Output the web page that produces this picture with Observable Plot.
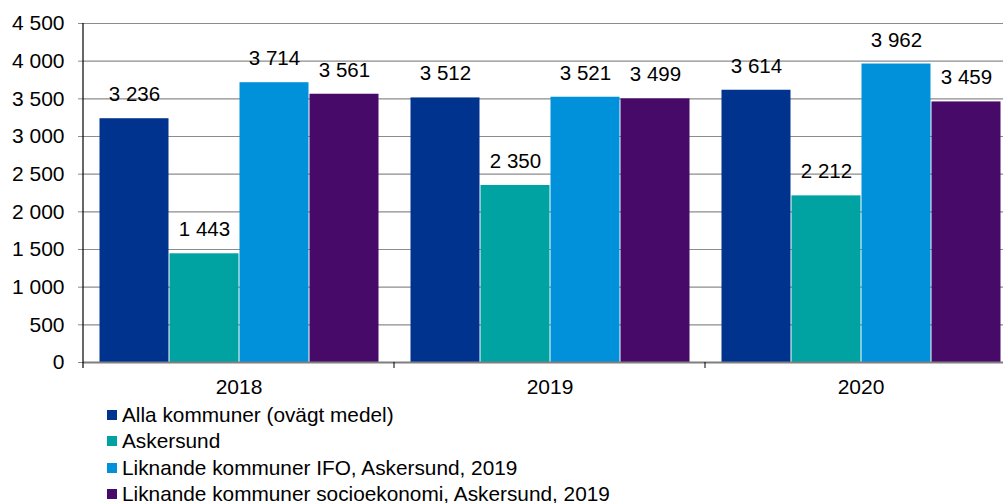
<!DOCTYPE html>
<html><head><meta charset="utf-8">
<script src="https://cdn.jsdelivr.net/npm/d3@7"></script>
<script src="https://cdn.jsdelivr.net/npm/@observablehq/plot@0.6"></script>
<style>
html,body{margin:0;background:#fff;font-family:"Liberation Sans",Arial,sans-serif;overflow:hidden}
#wrap{width:1016px;overflow:hidden}
#chart svg{display:block;max-width:none !important}
.legend{padding-left:107px;padding-top:2px;font-size:20.8px;color:#000}
.item{display:flex;align-items:center;height:26.3px;white-space:nowrap}
.sw{width:10px;height:10px;margin-right:5px;flex:none}
</style></head><body><div id="wrap"><div id="chart"></div><div class="legend" id="legend"></div></div>
<script>
const years = ["2018", "2019", "2020"];
const series = [
  "Alla kommuner (ovägt medel)",
  "Askersund",
  "Liknande kommuner IFO, Askersund, 2019",
  "Liknande kommuner socioekonomi, Askersund, 2019"
];
const colors = ["#00338D", "#00A3A1", "#0091DA", "#470A68"];
const allaKommuner = [3236, 3512, 3614];
const askersund = [1443, 2350, 2212];
const liknandeIFO = [3714, 3521, 3962];
const liknandeSocio = [3561, 3499, 3459];
const yTicks = [0, 500, 1000, 1500, 2000, 2500, 3000, 3500, 4000, 4500];

const valuesBySeries = [allaKommuner, askersund, liknandeIFO, liknandeSocio];
const data = [];
years.forEach((yr, i) => series.forEach((s, j) => data.push({year: yr, series: s, value: valuesBySeries[j][i]})));

const fmt = d3.formatLocale({decimal: ",", thousands: " ", grouping: [3], currency: ["", " kr"]}).format(",d");

const plot = Plot.plot({
  width: 1016,
  height: 400,
  marginLeft: 82,
  marginRight: 0,
  marginTop: 23,
  marginBottom: 38,
  style: {fontFamily: "'Liberation Sans', Arial, sans-serif", fontSize: "21px", color: "#000", background: "#fff", maxWidth: "none"},
  fx: {domain: years, padding: 0, label: null},
  x: {domain: series, paddingInner: 0, paddingOuter: 0.214, axis: null},
  y: {domain: [0, 4500], label: null},
  color: {domain: series, range: colors},
  marks: [
    Plot.gridY(yTicks, {stroke: "#8c8c8c", strokeOpacity: 1, strokeWidth: 1.2}),
    Plot.barY(data, {fx: "year", x: "series", y: "value", fill: "series", insetLeft: 0.5, insetRight: 0.5}),
    Plot.ruleY([0], {stroke: "#7f7f7f", strokeWidth: 2}),
    Plot.text(data, {fx: "year", x: "series", y: "value", text: d => fmt(d.value), dy: -24, fill: "#000", fontSize: 20.5}),
    Plot.axisY(yTicks, {tickFormat: fmt, tickSize: 5, tickPadding: 14, stroke: "#8c8c8c", fill: "#000", label: null}),
    Plot.axisFx({anchor: "bottom", tickSize: 0, tickPadding: 17, label: null, fill: "#000"})
  ]
});
document.getElementById("chart").append(plot);

// axis line and group-boundary ticks drawn from the library's scales
const fx = plot.scale("fx"), y = plot.scale("y");
const svg = d3.select(plot);
const y0 = y.apply(0), yTop = y.apply(4500);
const x0 = fx.apply(years[0]);
const bounds = years.map(yr => fx.apply(yr)).concat([fx.apply(years[years.length - 1]) + fx.bandwidth]);
svg.append("g").selectAll("line").data(bounds.slice(1)).join("line")
  .attr("x1", d => d).attr("x2", d => d).attr("y1", y0).attr("y2", y0 + 6)
  .attr("stroke", "#000").attr("stroke-width", 1);
svg.append("line").attr("x1", x0).attr("x2", x0).attr("y1", yTop).attr("y2", y0 + 6)
  .attr("stroke", "#000").attr("stroke-width", 1.2);

const legend = d3.select("#legend");
series.forEach((s, i) => {
  const it = legend.append("div").attr("class", "item");
  it.append("span").attr("class", "sw").style("background", colors[i]);
  it.append("span").text(s);
});
</script></body></html>
